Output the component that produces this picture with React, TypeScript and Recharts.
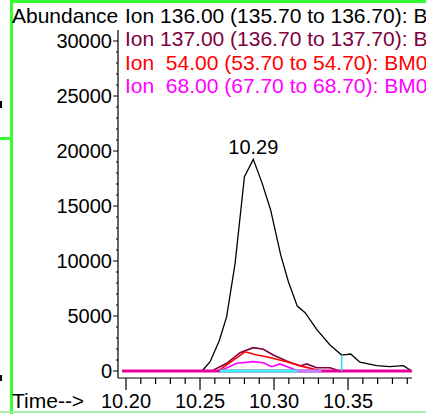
import React from 'react';
import { LineChart, Line, XAxis, YAxis } from 'recharts';

// Ion 136.00 trace (black)
const ion136Time = [10.1973, 10.2514, 10.2568, 10.263, 10.268, 10.2737, 10.280, 10.286, 10.292, 10.2977, 10.3045, 10.3097, 10.3157, 10.321, 10.3288, 10.3378, 10.3457, 10.3518, 10.358, 10.3694, 10.378, 10.3874, 10.393];
const ion136Abund = [0, 0, 845, 2750, 4940, 9790, 17660, 19240, 17060, 14640, 10550, 8120, 5900, 5300, 3790, 2360, 1450, 1545, 800, 480, 390, 480, 0];

// Ion 137.00 trace (maroon)
const ion137Time = [10.1973, 10.2579, 10.268, 10.277, 10.286, 10.2928, 10.2995, 10.3085, 10.3176, 10.322, 10.3288, 10.3378, 10.3446, 10.393];
const ion137Abund = [0, 0, 700, 1660, 2120, 1970, 1450, 910, 455, 640, 300, 300, 0, 0];

// Ion 54.00 trace (red)
const ion54Time = [10.1973, 10.2623, 10.2804, 10.2883, 10.295, 10.3085, 10.3198, 10.3322, 10.393];
const ion54Abund = [0, 0, 1750, 1450, 1300, 850, 400, 0, 0];

// Ion 68.00 trace (magenta)
const ion68Time = [10.1973, 10.2635, 10.2748, 10.286, 10.2928, 10.2984, 10.304, 10.3108, 10.3164, 10.393];
const ion68Abund = [0, 0, 700, 850, 755, 390, 640, 300, 0, 0];

// integration baseline / end marker
const baseStart = 10.1973;
const baseEnd = 10.393;
const cyanStart = 10.2635;
const cyanEnd = 10.316;
const purpleEnd = 10.332;
const markerTime = 10.3457;
const markerHeight = 1450;

const legendLabels = [
  'Ion 136.00 (135.70 to 136.70): BM0101.D\\data.ms',
  'Ion 137.00 (136.70 to 137.70): BM0101.D\\data.ms',
  'Ion  54.00 (53.70 to 54.70): BM0101.D\\data.ms',
  'Ion  68.00 (67.70 to 68.70): BM0101.D\\data.ms',
];
const legendColors = ['#000000', '#800040', '#ff0000', '#ff00ff'];

const xTicks = [10.2, 10.21, 10.22, 10.23, 10.24, 10.25, 10.26, 10.27, 10.28, 10.29, 10.3, 10.31, 10.32, 10.33, 10.34, 10.35, 10.36, 10.37, 10.38, 10.39];
const xLabels = [10.2, 10.25, 10.3, 10.35];
const yTicks = [0, 1000, 2000, 3000, 4000, 5000, 6000, 7000, 8000, 9000, 10000, 11000, 12000, 13000, 14000, 15000, 16000, 17000, 18000, 19000, 20000, 21000, 22000, 23000, 24000, 25000, 26000, 27000, 28000, 29000, 30000];

const FONT = '"Liberation Sans", Arial, sans-serif';

const zip = (ts: number[], vs: number[]) => ts.map((t, i) => ({ t, v: vs[i] }));

const data136 = zip(ion136Time, ion136Abund);
const data137 = zip(ion137Time, ion137Abund);
const data54 = zip(ion54Time, ion54Abund);
const data68 = zip(ion68Time, ion68Abund);
const baseData = zip([baseStart, baseEnd], [0, 0]);
const cyanData = zip([cyanStart, cyanEnd], [0, 0]);
const purpleData = zip([cyanEnd, purpleEnd], [0, 0]);
const markerData = zip([markerTime, markerTime], [0, markerHeight]);

const peakIdx = ion136Abund.indexOf(Math.max(...ion136Abund));

const XTick = (props: any) => {
  const { x, y, payload } = props;
  const val = Math.round(payload.value * 100) / 100;
  const major = xLabels.some((l) => Math.abs(l - val) < 1e-6);
  return (
    <g>
      <line x1={x} x2={x} y1={y} y2={y + (major ? 12 : 6)} stroke="#000" strokeWidth={1.2} />
      {major && (
        <text x={x} y={y + 30} textAnchor="middle" fontSize={20} fontFamily={FONT} fill="#000">
          {val.toFixed(2)}
        </text>
      )}
    </g>
  );
};

const YTick = (props: any) => {
  const { x, y, payload } = props;
  const major = payload.value % 5000 === 0;
  return (
    <g>
      <line x1={x - (major ? 5 : 2)} x2={x} y1={y} y2={y} stroke="#000" strokeWidth={1} />
      {major && (
        <text x={x - 6} y={y + 7} textAnchor="end" fontSize={20} fontFamily={FONT} fill="#000">
          {payload.value}
        </text>
      )}
    </g>
  );
};

const PeakLabel = (props: any) => {
  const { x, y, index } = props;
  if (index !== peakIdx) return null;
  return (
    <text x={x} y={y - 5} textAnchor="middle" fontSize={20} fontFamily={FONT} fill="#000">
      {ion136Time[peakIdx].toFixed(2)}
    </text>
  );
};

const box = (left: number, top: number, width: number, height: number, bg: string): React.CSSProperties => ({
  position: 'absolute', left, top, width, height, background: bg,
});

export default function App() {
  return (
    <div style={{ position: 'absolute', left: 0, top: 0, width: 426, height: 414, background: '#fff', overflow: 'hidden' }}>
      <div style={box(10, 0, 2.5, 414, '#33ff33')} />
      <div style={box(10, 0, 416, 2.5, '#33ff33')} />
      <div style={box(0, 137, 11, 2.5, '#33ff33')} />
      <div style={box(0, 410.5, 426, 2, '#a8f0a8')} />
      <div style={box(0, 101, 2, 7, '#000')} />
      <div style={box(0, 375, 2, 6, '#000')} />
      <div style={{ position: 'absolute', left: 0, top: 0 }}>
        <LineChart width={426} height={414} margin={{ top: 30, right: 14, bottom: 0, left: 0 }}>
          <XAxis
            type="number"
            dataKey="t"
            domain={[10.1946, 10.3932]}
            allowDataOverflow
            ticks={xTicks}
            interval={0}
            tick={<XTick />}
            tickLine={false}
            tickSize={0}
            tickMargin={0}
            height={36}
            axisLine={{ stroke: '#000', strokeWidth: 1.2 }}
          />
          <YAxis
            type="number"
            dataKey="v"
            domain={[-636, 31000]}
            allowDataOverflow
            ticks={yTicks}
            interval={0}
            tick={<YTick />}
            tickLine={false}
            tickSize={0}
            tickMargin={0}
            width={118}
            axisLine={{ stroke: '#000', strokeWidth: 1.2 }}
          />
          <Line data={data136} dataKey="v" stroke="#000" strokeWidth={1.3} dot={false} isAnimationActive={false} label={<PeakLabel />} />
          <Line data={data137} dataKey="v" stroke="#800040" strokeWidth={1.6} dot={false} isAnimationActive={false} />
          <Line data={data54} dataKey="v" stroke="#ff0000" strokeWidth={1.6} dot={false} isAnimationActive={false} />
          <Line data={data68} dataKey="v" stroke="#ff00ff" strokeWidth={1.6} dot={false} isAnimationActive={false} />
          <Line data={baseData} dataKey="v" stroke="#e6009c" strokeWidth={3} dot={false} isAnimationActive={false} />
          <Line data={cyanData} dataKey="v" stroke="#40f0f0" strokeWidth={3} dot={false} isAnimationActive={false} />
          <Line data={purpleData} dataKey="v" stroke="#c080ff" strokeWidth={3} dot={false} isAnimationActive={false} />
          <Line data={markerData} dataKey="v" stroke="#20e0f0" strokeWidth={1.5} dot={false} isAnimationActive={false} />
        </LineChart>
      </div>
      <svg width={426} height={414} style={{ position: 'absolute', left: 0, top: 0, pointerEvents: 'none' }}>
        <text x={12} y={23} fontSize={21} fontFamily={FONT} fill="#000">Abundance</text>
        {legendLabels.map((l, i) => (
          <text key={l} x={125} y={23 + i * 23.4} fontSize={21} fontFamily={FONT} fill={legendColors[i]} style={{ whiteSpace: 'pre' }}>
            {l}
          </text>
        ))}
        <text x={12} y={408} fontSize={21} fontFamily={FONT} fill="#000">Time--&gt;</text>
      </svg>
    </div>
  );
}
